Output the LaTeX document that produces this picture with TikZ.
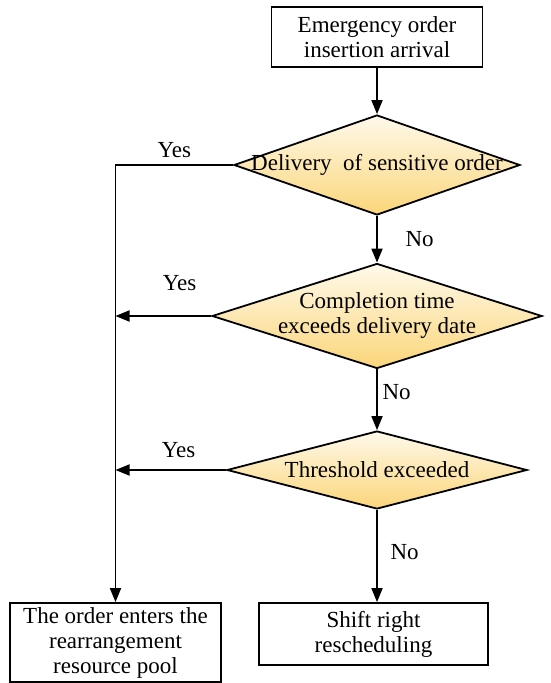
\documentclass[tikz,border=0pt]{standalone}
\usepackage{fontspec}
\setmainfont{Liberation Serif}
\usetikzlibrary{arrows.meta,shapes.geometric}
\definecolor{cream}{RGB}{254,249,234}
\definecolor{gold}{RGB}{251,214,122}

\begin{document}
\begin{tikzpicture}[x=0.5pt,y=-0.5pt,
  font=\fontsize{11.5}{12.5}\selectfont,
  box/.style={draw, line width=0.9pt, align=center, inner sep=1pt},
  decision/.style={diamond, draw, line width=0.9pt, top color=cream, bottom color=gold, inner sep=0pt},
  flow/.style={line width=0.9pt, -{Triangle[length=7pt,width=5.5pt]}}]
\useasboundingbox (0,0) rectangle (550,683);
% blocchi
\node[box, minimum width=105.5pt, minimum height=30pt] (arrival) at (377,37) {Emergency order\\insertion arrival};
\node[decision, minimum width=143pt, minimum height=50pt,
  label={center:Delivery\ \ of sensitive order}] (sensitive) at (377,165) {};
\node[decision, minimum width=165pt, minimum height=52.5pt,
  label={[align=center]center:Completion time\\exceeds delivery date}] (overdue) at (377,316) {};
\node[decision, minimum width=150pt, minimum height=39pt,
  label={center:Threshold exceeded}] (threshold) at (377,470) {};
\node[box, minimum width=105.5pt, minimum height=39.5pt] (pool) at (115.5,642.5) {The order enters the\\rearrangement\\resource pool};
\node[box, minimum width=114.5pt, minimum height=31pt] (shift) at (373.5,634) {Shift right\\rescheduling};
% ramo No
\draw[flow] (arrival) -- (sensitive);
\draw[flow] (sensitive) -- node[right, xshift=10.5pt] (no1) {No} (overdue);
\draw[flow] (overdue) -- node[right, xshift=-1pt, yshift=4pt] (no2) {No} (threshold);
\draw[flow] (threshold.south) -- node[right, xshift=3pt, yshift=2pt] (no3) {No} (threshold.south |- shift.north);
% ramo Yes
\draw[flow] (sensitive.west) -| node[pos=0.25, above] (yes1) {Yes} (pool.north);
\draw[flow] (overdue.west) -- node[pos=0.33, above, yshift=9pt] (yes2) {Yes} (overdue.west -| pool.north);
\draw[flow] (threshold.west) -- node[pos=0.43, above, yshift=2.5pt] (yes3) {Yes} (threshold.west -| pool.north);
\end{tikzpicture}
\end{document}
